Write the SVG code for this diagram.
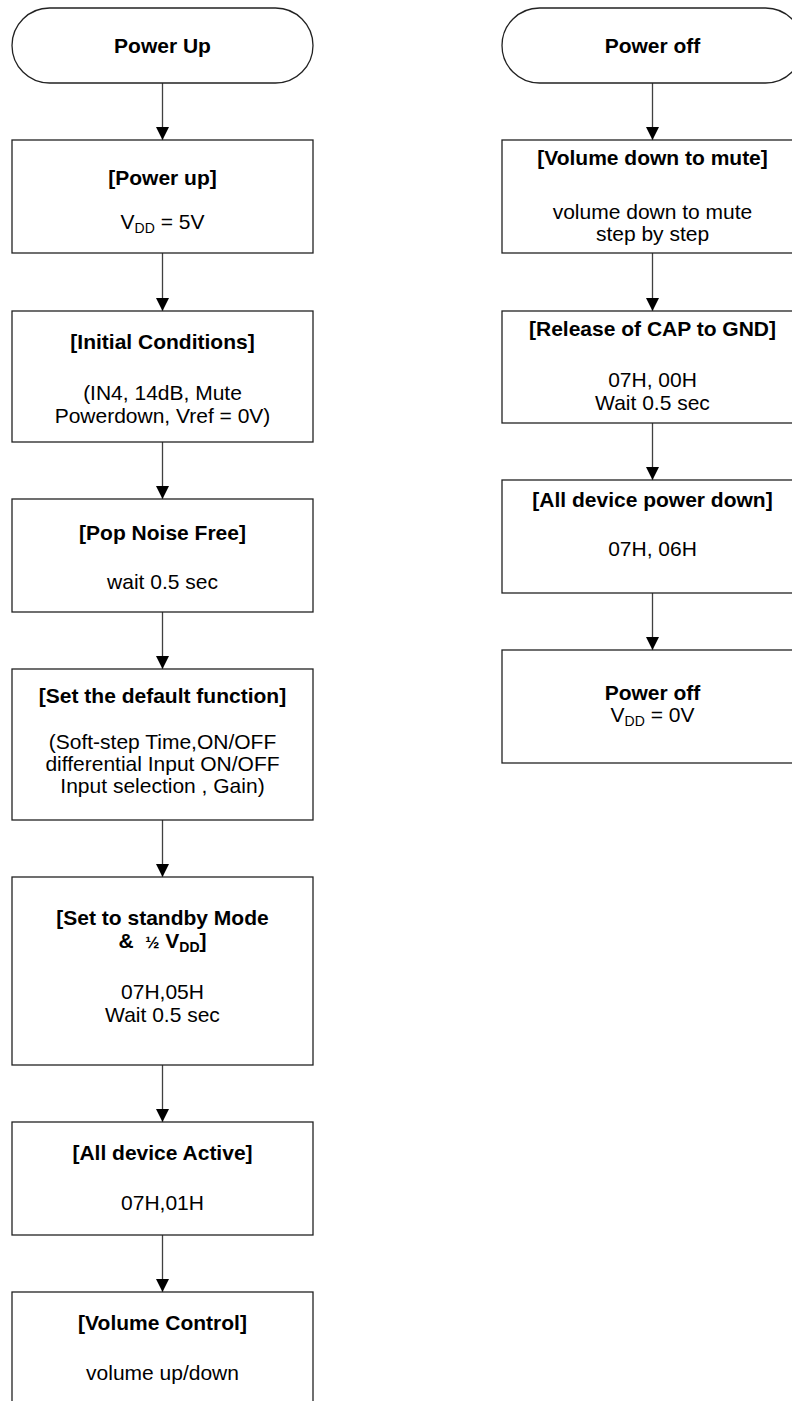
<svg xmlns="http://www.w3.org/2000/svg" width="792" height="1401" viewBox="0 0 792 1401">
<style>
.node rect{fill:#fff;stroke:#222;stroke-width:1.3}
.t{font-family:"Liberation Sans",Arial,sans-serif;font-size:21px;fill:#000;text-anchor:middle}
.b{font-weight:bold}
.conn line{stroke:#404040;stroke-width:1.3}
</style>
<defs>
<marker id="ah" markerUnits="userSpaceOnUse" markerWidth="14" markerHeight="14" refX="13" refY="6.5" orient="auto">
<path d="M0,0 L13,6.5 L0,13 Z" fill="#000"/>
</marker>
</defs>
<rect width="792" height="1401" fill="#fff"/>
<g id="connectors" class="conn">
<line x1="162.5" y1="83" x2="162.5" y2="140" marker-end="url(#ah)"/>
<line x1="162.5" y1="253" x2="162.5" y2="311" marker-end="url(#ah)"/>
<line x1="162.5" y1="442" x2="162.5" y2="499" marker-end="url(#ah)"/>
<line x1="162.5" y1="612" x2="162.5" y2="669" marker-end="url(#ah)"/>
<line x1="162.5" y1="820" x2="162.5" y2="877" marker-end="url(#ah)"/>
<line x1="162.5" y1="1065" x2="162.5" y2="1122" marker-end="url(#ah)"/>
<line x1="162.5" y1="1235" x2="162.5" y2="1292" marker-end="url(#ah)"/>
<line x1="652.5" y1="83" x2="652.5" y2="140" marker-end="url(#ah)"/>
<line x1="652.5" y1="253" x2="652.5" y2="311" marker-end="url(#ah)"/>
<line x1="652.5" y1="423" x2="652.5" y2="480" marker-end="url(#ah)"/>
<line x1="652.5" y1="593" x2="652.5" y2="650" marker-end="url(#ah)"/>
</g>
<g id="start-up" class="node">
<rect x="12" y="8" width="301" height="75" rx="37.5" ry="37.5"/>
<text class="t b" x="162.5" y="53">Power Up</text>
</g>
<g id="power-up" class="node">
<rect x="12" y="140" width="301" height="113"/>
<text class="t b" x="162.5" y="185">[Power up]</text>
<text class="t" x="162.5" y="229">V<tspan font-size="14" dy="4">DD</tspan><tspan dy="-4"> = 5V</tspan></text>
</g>
<g id="initial" class="node">
<rect x="12" y="311" width="301" height="131"/>
<text class="t b" x="162.5" y="349">[Initial Conditions]</text>
<text class="t" x="162.5" y="400">(IN4, 14dB, Mute</text>
<text class="t" x="162.5" y="423">Powerdown, Vref = 0V)</text>
</g>
<g id="popnoise" class="node">
<rect x="12" y="499" width="301" height="113"/>
<text class="t b" x="162.5" y="540">[Pop Noise Free]</text>
<text class="t" x="162.5" y="589">wait 0.5 sec</text>
</g>
<g id="default" class="node">
<rect x="12" y="669" width="301" height="151"/>
<text class="t b" x="162.5" y="703">[Set the default function]</text>
<text class="t" x="162.5" y="749">(Soft-step Time,ON/OFF</text>
<text class="t" x="162.5" y="771">differential Input ON/OFF</text>
<text class="t" x="162.5" y="793">Input selection , Gain)</text>
</g>
<g id="standby" class="node">
<rect x="12" y="877" width="301" height="188"/>
<text class="t b" x="162.5" y="925">[Set to standby Mode</text>
<text class="t b" x="162.5" y="948" xml:space="preserve" style="white-space:pre">&amp;  <tspan font-size="17">½</tspan> V<tspan font-size="14" dy="4">DD</tspan><tspan dy="-4">]</tspan></text>
<text class="t" x="162.5" y="999">07H,05H</text>
<text class="t" x="162.5" y="1022">Wait 0.5 sec</text>
</g>
<g id="active" class="node">
<rect x="12" y="1122" width="301" height="113"/>
<text class="t b" x="162.5" y="1160">[All device Active]</text>
<text class="t" x="162.5" y="1210">07H,01H</text>
</g>
<g id="volume" class="node">
<rect x="12" y="1292" width="301" height="120"/>
<text class="t b" x="162.5" y="1330">[Volume Control]</text>
<text class="t" x="162.5" y="1380">volume up/down</text>
</g>
<g id="start-off" class="node">
<rect x="502" y="8" width="301" height="75" rx="37.5" ry="37.5"/>
<text class="t b" x="652.5" y="53">Power off</text>
</g>
<g id="vol-down" class="node">
<rect x="502" y="140" width="301" height="113"/>
<text class="t b" x="652.5" y="165">[Volume down to mute]</text>
<text class="t" x="652.5" y="219">volume down to mute</text>
<text class="t" x="652.5" y="241">step by step</text>
</g>
<g id="release" class="node">
<rect x="502" y="311" width="301" height="112"/>
<text class="t b" x="652.5" y="336">[Release of CAP to GND]</text>
<text class="t" x="652.5" y="387">07H, 00H</text>
<text class="t" x="652.5" y="410">Wait 0.5 sec</text>
</g>
<g id="powerdown" class="node">
<rect x="502" y="480" width="301" height="113"/>
<text class="t b" x="652.5" y="507">[All device power down]</text>
<text class="t" x="652.5" y="556">07H, 06H</text>
</g>
<g id="poweroff" class="node">
<rect x="502" y="650" width="301" height="113"/>
<text class="t b" x="652.5" y="700">Power off</text>
<text class="t" x="652.5" y="722">V<tspan font-size="14" dy="4">DD</tspan><tspan dy="-4"> = 0V</tspan></text>
</g>
</svg>
